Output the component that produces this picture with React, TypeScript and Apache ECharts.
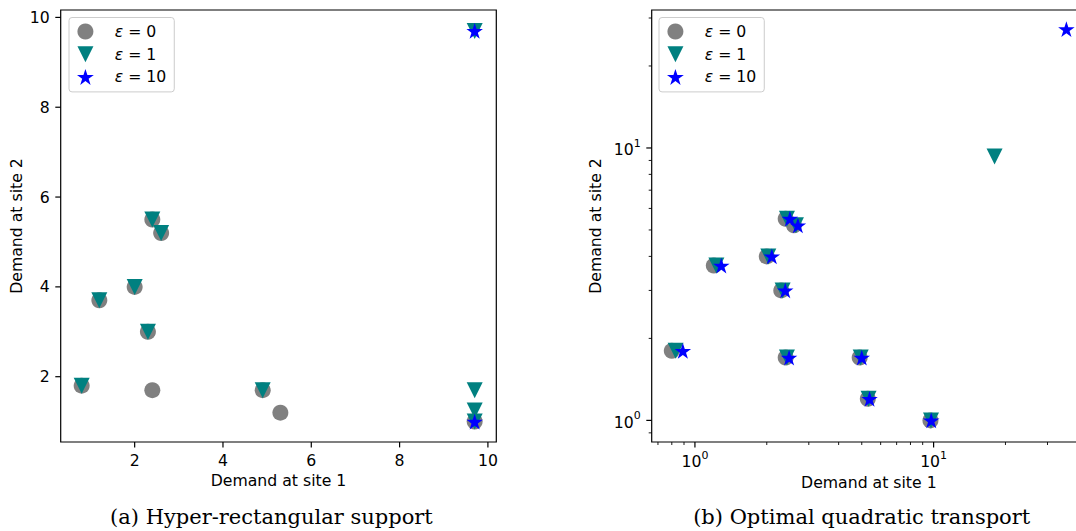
import React, { useEffect, useRef } from "react";
import * as echarts from "echarts";

// ---------- data ----------
const NAMES = ["ε = 0", "ε = 1", "ε = 10"];

// ε = 0 (same nominal support in both panels)
const EPS0 = [
  [0.8, 1.8], [1.2, 3.7], [2.0, 4.0], [2.3, 3.0], [2.4, 5.5],
  [2.6, 5.2], [2.4, 1.7], [4.9, 1.7], [5.3, 1.2], [9.7, 1.0],
];
// (a) Hyper-rectangular support
const A_EPS1 = [
  [0.8, 1.8], [1.2, 3.7], [2.0, 4.0], [2.3, 3.0], [2.4, 5.5],
  [2.6, 5.2], [9.7, 1.7], [4.9, 1.7], [9.7, 1.25], [9.7, 1.0], [9.7, 9.7],
];
const A_EPS10 = [[9.7, 9.7], [9.7, 1.0]];
// (b) Optimal quadratic transport
const B_EPS1 = [
  [0.83, 1.8], [1.23, 3.7], [2.03, 4.0], [2.33, 3.0], [2.43, 5.5],
  [2.65, 5.2], [2.43, 1.7], [4.95, 1.7], [5.34, 1.2], [9.75, 1.0], [18.0, 9.3],
];
const B_EPS10 = [
  [0.89, 1.8], [1.29, 3.7], [2.1, 4.0], [2.39, 3.0], [2.5, 5.5],
  [2.7, 5.2], [2.48, 1.7], [5.0, 1.7], [5.39, 1.2], [9.77, 1.0], [36.0, 27.3],
];

// tick values
const A_X_TICKS = [2, 4, 6, 8, 10];
const A_Y_TICKS = [2, 4, 6, 8, 10];
const B_MAJOR = [1, 10];
const B_MINOR_X = [0.7, 0.8, 0.9, 2, 3, 4, 5, 6, 7, 8, 9, 20, 30, 40];
const B_MINOR_Y = [0.9, 2, 3, 4, 5, 6, 7, 8, 9, 20, 30];

// axis extents
const A_X = [0.325, 10.19];
const A_Y = [0.546, 10.165];
const B_X = [0.659, 43.5];
const B_Y = [0.833, 32.1];

const CAPTIONS = ["(a) Hyper-rectangular support", "(b) Optimal quadratic transport"];
const X_NAME = "Demand at site 1";
const Y_NAME = "Demand at site 2";

// ---------- styles ----------
const FONT = "DejaVu Sans";
const FS = 15.7;
const GRAY = "#808080";
const TEAL = "#008080";
const BLUE = "#0000ff";
const TRI = "path://M0,0L2,0L1,2Z";
const STAR =
  "path://M0,-1L0.2245,-0.309L0.9511,-0.309L0.3633,0.118L0.5878,0.809L0,0.382L-0.5878,0.809L-0.3633,0.118L-0.9511,-0.309L-0.2245,-0.309Z";

function tickSeries(gi: number, data: number[][], dir: "x" | "y", len: number, w: number) {
  return {
    type: "custom",
    xAxisIndex: gi,
    yAxisIndex: gi,
    silent: true,
    clip: false,
    z: 5,
    data,
    renderItem: (_p: any, api: any) => {
      const p = api.coord([api.value(0), api.value(1)]);
      const shape =
        dir === "x"
          ? { x1: p[0], y1: p[1], x2: p[0], y2: p[1] + len }
          : { x1: p[0], y1: p[1], x2: p[0] - len, y2: p[1] };
      return { type: "line", shape, style: { stroke: "#000", lineWidth: w } };
    },
  };
}

function scatter(name: string, gi: number, data: number[][], symbol: string, size: any, color: string) {
  return {
    type: "scatter",
    name,
    xAxisIndex: gi,
    yAxisIndex: gi,
    data,
    symbol,
    symbolSize: size,
    itemStyle: { color, opacity: 1 },
    z: 3,
  };
}

const linFmt = (v: number) => {
  const r = Math.round(v);
  return Math.abs(v - r) < 1e-9 && r % 2 === 0 ? String(r) : "";
};
const logFmt = (v: number) => {
  const e = Math.log10(v);
  const r = Math.round(e);
  return Math.abs(e - r) < 1e-6 ? `{b|10}{s|${r}}` : "";
};
const logRich = {
  b: { fontSize: FS, fontFamily: FONT, color: "#000", lineHeight: 20, verticalAlign: "bottom" },
  s: { fontSize: 11, fontFamily: FONT, color: "#000", lineHeight: 12, verticalAlign: "top" },
};
const nameStyle = { fontSize: FS, fontFamily: FONT, color: "#000" };

function legend(left: number) {
  return {
    data: NAMES,
    left,
    top: 17.5,
    orient: "vertical",
    itemWidth: 26.6,
    itemHeight: 16,
    itemGap: 6.7,
    padding: [6, 8, 7, 8],
    backgroundColor: "#ffffff",
    borderColor: "#cccccc",
    borderWidth: 1,
    borderRadius: 3,
    selectedMode: false,
    formatter: (name: string) => `{i|${name.slice(0, 1)}}{n|${name.slice(1)}}`,
    textStyle: {
      fontSize: FS,
      fontFamily: FONT,
      color: "#000",
      lineHeight: 16,
      rich: {
        i: { fontSize: FS, fontFamily: FONT, fontStyle: "italic", color: "#000", lineHeight: 16, padding: [0, 0, 0, 11] },
        n: { fontSize: FS, fontFamily: FONT, color: "#000", lineHeight: 16 },
      },
    },
  };
}

export default function App() {
  const ref = useRef<HTMLDivElement>(null);
  useEffect(() => {
    if (!ref.current) return;
    const chart = echarts.init(ref.current, null, { renderer: "svg" });
    const common = { axisLine: { show: false }, axisTick: { show: false }, splitLine: { show: false } };
    const option: any = {
      animation: false,
      backgroundColor: "#ffffff",
      grid: [
        { left: 60.7, top: 10, width: 435.6, height: 432, show: true, borderColor: "#000", borderWidth: 1.2, backgroundColor: "transparent", containLabel: false, outerBoundsMode: "none" },
        { left: 651.7, top: 10, width: 434.3, height: 432, show: true, borderColor: "#000", borderWidth: 1.2, backgroundColor: "transparent", containLabel: false, outerBoundsMode: "none" },
      ],
      xAxis: [
        {
          gridIndex: 0, type: "value", min: A_X[0], max: A_X[1], ...common,
          axisLabel: { formatter: linFmt, margin: 10, color: "#000", fontSize: FS, fontFamily: FONT },
          name: X_NAME, nameLocation: "middle", nameGap: 30, nameTextStyle: nameStyle,
        },
        {
          gridIndex: 1, type: "log", logBase: 10, min: B_X[0], max: B_X[1], ...common,
          axisLabel: { formatter: logFmt, margin: 7.5, rich: logRich },
          name: X_NAME, nameLocation: "middle", nameGap: 30, nameTextStyle: nameStyle,
        },
      ],
      yAxis: [
        {
          gridIndex: 0, type: "value", min: A_Y[0], max: A_Y[1], ...common,
          axisLabel: { formatter: linFmt, margin: 11, color: "#000", fontSize: FS, fontFamily: FONT },
          name: Y_NAME, nameLocation: "middle", nameGap: 36, nameRotate: 90, nameTextStyle: nameStyle,
        },
        {
          gridIndex: 1, type: "log", logBase: 10, min: B_Y[0], max: B_Y[1], ...common,
          axisLabel: { formatter: logFmt, margin: 11, rich: logRich },
          name: Y_NAME, nameLocation: "middle", nameGap: 48, nameRotate: 90, nameTextStyle: nameStyle,
        },
      ],
      legend: [legend(69), legend(659)],
      series: [
        scatter(NAMES[0], 0, EPS0, "circle", 16, GRAY),
        scatter(NAMES[1], 0, A_EPS1, TRI, 16, TEAL),
        scatter(NAMES[2], 0, A_EPS10, STAR, [16.5, 15.7], BLUE),
        scatter(NAMES[0], 1, EPS0, "circle", 16, GRAY),
        scatter(NAMES[1], 1, B_EPS1, TRI, 16, TEAL),
        scatter(NAMES[2], 1, B_EPS10, STAR, [16.5, 15.7], BLUE),
        tickSeries(0, A_X_TICKS.map((v) => [v, A_Y[0]]), "x", 5.4, 1.2),
        tickSeries(0, A_Y_TICKS.map((v) => [A_X[0], v]), "y", 5.4, 1.2),
        tickSeries(1, B_MAJOR.map((v) => [v, B_Y[0]]), "x", 5.4, 1.2),
        tickSeries(1, B_MINOR_X.map((v) => [v, B_Y[0]]), "x", 3, 0.9),
        tickSeries(1, B_MAJOR.map((v) => [B_X[0], v]), "y", 5.4, 1.2),
        tickSeries(1, B_MINOR_Y.map((v) => [B_X[0], v]), "y", 3, 0.9),
      ],
      graphic: [
        { type: "text", x: 271.4, y: 517, style: { text: CAPTIONS[0], textAlign: "center", textVerticalAlign: "middle", fontFamily: "DejaVu Serif", fontSize: 21, fill: "#000" } },
        { type: "text", x: 861.7, y: 517, style: { text: CAPTIONS[1], textAlign: "center", textVerticalAlign: "middle", fontFamily: "DejaVu Serif", fontSize: 21, fill: "#000" } },
      ],
    };
    chart.setOption(option);
    return () => chart.dispose();
  }, []);
  return (
    <div
      ref={ref}
      style={{ position: "absolute", left: 0, top: 0, width: 1076, height: 531, overflow: "hidden", background: "#fff" }}
    />
  );
}
